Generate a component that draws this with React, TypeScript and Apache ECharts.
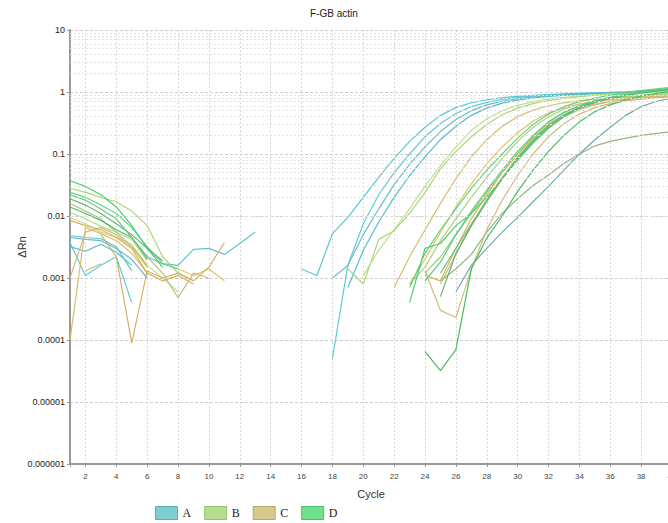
import React, { useEffect, useRef } from 'react';
import * as echarts from 'echarts';

type Seg = [number, number[]];

const TITLE = 'F-GB actin';
const X_NAME = 'Cycle';
const Y_NAME = 'ΔRn';
const GROUPS = ['A', 'B', 'C', 'D'];
const LEGEND_COLORS = ['#7dcfcf', '#b6de8e', '#d7c98b', '#6fe18f'];
const LEGEND_BORDERS = ['#5aaeb0', '#94c46e', '#b7a86a', '#4cbf6c'];
const Y_TICK_LABELS = ['0.000001', '0.00001', '0.0001', '0.001', '0.01', '0.1', '1', '10'];
const X_MIN = 1;
const X_MAX = 40;

// Each curve: list of [first cycle, values...] segments (gaps = values not drawn on log scale)
const A1: Seg[] = [[1, [0.0048, 0.0045, 0.0043, 0.0032, 0.0013]], [16, [0.0014, 0.0011, 0.0052, 0.0095, 0.02, 0.042, 0.085, 0.16, 0.27, 0.42, 0.56, 0.67, 0.75, 0.81, 0.85, 0.88, 0.91, 0.93, 0.95, 0.97, 0.99, 1.01, 1.04, 1.07, 1.1]]];
const A2: Seg[] = [[1, [0.0037, 0.0011, 0.0016, 0.0022, 0.0004]], [18, [0.00005, 0.0016, 0.0075, 0.022, 0.05, 0.1, 0.19, 0.31, 0.45, 0.58, 0.68, 0.76, 0.82, 0.86, 0.89, 0.92, 0.94, 0.96, 0.98, 1.0, 1.03, 1.06, 1.09]]];
const A3: Seg[] = [[1, [0.0045, 0.0042, 0.004, 0.003, 0.002, 0.001]], [18, [0.001, 0.0016, 0.005, 0.013, 0.032, 0.068, 0.13, 0.23, 0.36, 0.5, 0.62, 0.71, 0.78, 0.83, 0.87, 0.9, 0.93, 0.95, 0.97, 0.99, 1.02, 1.05, 1.08]]];
const A4: Seg[] = [[1, [0.0032, 0.0027, 0.0035, 0.0026, 0.0016]], [19, [0.0007, 0.0028, 0.008, 0.02, 0.045, 0.09, 0.17, 0.28, 0.42, 0.55, 0.66, 0.74, 0.8, 0.85, 0.88, 0.91, 0.94, 0.96, 0.98, 1.01, 1.04, 1.07]]];
const A5: Seg[] = [[26, [0.0006, 0.0016, 0.003, 0.0055, 0.0095, 0.017, 0.03, 0.055, 0.1, 0.17, 0.27, 0.42, 0.58, 0.71, 0.8]]];
const A6: Seg[] = [[6, [0.0022, 0.0017, 0.0016, 0.0029, 0.003, 0.0024, 0.0036, 0.0055]]];

const B1: Seg[] = [[1, [0.028, 0.024, 0.02, 0.017, 0.012, 0.007, 0.0022, 0.0012, 0.0009]], [19, [0.0014, 0.0008, 0.0042, 0.0058, 0.011, 0.024, 0.058, 0.11, 0.19, 0.3, 0.43, 0.55, 0.65, 0.73, 0.79, 0.84, 0.88, 0.91, 0.94, 0.97, 1.0, 1.03]]];
const B2: Seg[] = [[1, [0.0115, 0.009, 0.0068, 0.0055, 0.0042, 0.0019]], [20, [0.0011, 0.0028, 0.006, 0.013, 0.03, 0.065, 0.13, 0.24, 0.37, 0.5, 0.61, 0.7, 0.77, 0.82, 0.86, 0.9, 0.93, 0.96, 0.99, 1.02, 1.05]]];
const B3: Seg[] = [[24, [0.0012, 0.0022, 0.005, 0.011, 0.024, 0.05, 0.1, 0.19, 0.32, 0.47, 0.6, 0.7, 0.78, 0.84, 0.88, 0.91, 0.94]]];
const B4: Seg[] = [[25, [0.0009, 0.0014, 0.0024, 0.0055, 0.011, 0.019, 0.031, 0.046, 0.07, 0.1, 0.135, 0.16, 0.18, 0.2, 0.215, 0.228]]];
const B5: Seg[] = [[1, [0.0095, 0.0075, 0.0055, 0.0045, 0.0035, 0.0016, 0.001, 0.0006]]];
const B6: Seg[] = [[1, [0.016, 0.012, 0.009, 0.0055, 0.0032, 0.0015]], [23, [0.0008, 0.0015, 0.004, 0.009, 0.02, 0.042, 0.085, 0.16, 0.27, 0.4, 0.53, 0.64, 0.72, 0.78, 0.83, 0.87, 0.9, 0.93]]];

const C1: Seg[] = [[1, [0.0001, 0.0065, 0.0052, 0.004, 0.0025, 0.0012]], [22, [0.0007, 0.0022, 0.006, 0.016, 0.04, 0.09, 0.17, 0.28, 0.4, 0.51, 0.6, 0.67, 0.72, 0.76, 0.79, 0.81, 0.83, 0.85, 0.87]]];
const C2: Seg[] = [[1, [0.0085, 0.007, 0.006, 0.0045, 0.003, 0.0012, 0.0009, 0.0011, 0.0008]], [24, [0.0011, 0.0009, 0.003, 0.009, 0.022, 0.05, 0.1, 0.18, 0.3, 0.43, 0.55, 0.64, 0.71, 0.76, 0.8, 0.83, 0.86]]];
const C3: Seg[] = [[1, [0.001, 0.0055, 0.0065, 0.005, 0.0032, 0.0016]], [24, [0.0013, 0.0003, 0.00023, 0.0014, 0.006, 0.018, 0.045, 0.1, 0.19, 0.31, 0.44, 0.56, 0.65, 0.72, 0.77, 0.81, 0.84]]];
const C4: Seg[] = [[8, [0.0014, 0.0011, 0.0014, 0.0009]], [23, [0.0008, 0.002, 0.0055, 0.014, 0.033, 0.07, 0.13, 0.22, 0.34, 0.46, 0.56, 0.64, 0.7, 0.75, 0.79, 0.82, 0.85, 0.88]]];
const C5: Seg[] = [[3, [0.005, 0.0022, 0.00009, 0.0013, 0.001, 0.0012, 0.0009, 0.0015, 0.0037]]];
const C6: Seg[] = [[2, [0.0013, 0.0017]], [6, [0.0022, 0.0012, 0.00048, 0.0012, 0.001]], [25, [0.0008, 0.0024, 0.007, 0.018, 0.042, 0.085, 0.16, 0.27, 0.4, 0.52, 0.62, 0.7, 0.76, 0.8, 0.83, 0.86]]];

const D1: Seg[] = [[1, [0.037, 0.03, 0.022, 0.014, 0.007, 0.003, 0.0015]], [23, [0.0004, 0.003, 0.0036, 0.007, 0.011, 0.02, 0.04, 0.08, 0.15, 0.26, 0.4, 0.55, 0.68, 0.8, 0.9, 0.99, 1.07, 1.15]]];
const D2: Seg[] = [[1, [0.014, 0.011, 0.0085, 0.006, 0.0045, 0.0022]], [24, [0.000065, 0.000032, 0.00007, 0.0014, 0.0044, 0.01, 0.025, 0.055, 0.11, 0.2, 0.33, 0.48, 0.62, 0.75, 0.86, 0.95, 1.02]]];
const D3: Seg[] = [[1, [0.024, 0.02, 0.015, 0.011, 0.0065, 0.0032, 0.0017, 0.0014]], [23, [0.0007, 0.0025, 0.006, 0.013, 0.028, 0.055, 0.1, 0.18, 0.3, 0.44, 0.58, 0.7, 0.8, 0.89, 0.97, 1.05, 1.12, 1.2]]];
const D4: Seg[] = [[1, [0.019, 0.015, 0.011, 0.0075, 0.005, 0.003, 0.0019]], [25, [0.0005, 0.0025, 0.007, 0.017, 0.04, 0.085, 0.16, 0.28, 0.42, 0.56, 0.68, 0.79, 0.88, 0.96, 1.03, 1.1]]];
const D5: Seg[] = [[24, [0.0009, 0.0018, 0.005, 0.012, 0.026, 0.055, 0.11, 0.2, 0.33, 0.47, 0.6, 0.72, 0.82, 0.91, 0.99, 1.07, 1.14]]];
const D6: Seg[] = [[1, [0.022, 0.018, 0.013, 0.009, 0.0045, 0.002]], [25, [0.0012, 0.003, 0.0075, 0.018, 0.04, 0.09, 0.17, 0.29, 0.43, 0.57, 0.7, 0.81, 0.9, 0.98, 1.06, 1.13]]];

const CURVES: Record<string, Seg[][]> = {
  A: [A1, A2, A3, A4, A5, A6],
  B: [B1, B2, B3, B4, B5, B6],
  C: [C1, C2, C3, C4, C5, C6],
  D: [D1, D2, D3, D4, D5, D6],
};

const CURVE_COLORS: Record<string, string[]> = {
  A: ['#4fc4cf', '#55c8d8', '#62b9bf', '#48bccd', '#6aa9a3', '#5bbfca'],
  B: ['#a8d470', '#b9dc88', '#9ccb6a', '#8fb27e', '#c0dc8c', '#a6cf7a'],
  C: ['#d6bb6a', '#dcae48', '#cdb676', '#e0bf5a', '#cfae62', '#c4b87e'],
  D: ['#49c76a', '#3db95c', '#57d37a', '#5fae6e', '#45cc7c', '#68c27c'],
};

function toData(segs: Seg[]) {
  const out: any[] = [];
  segs.forEach(([start, vals], si) => {
    if (si > 0) out.push([start, '-']);
    vals.forEach((v, i) => out.push([start + i, v]));
  });
  return out;
}

export default function App() {
  const ref = useRef<HTMLDivElement>(null);
  useEffect(() => {
    if (!ref.current) return;
    const chart = echarts.init(ref.current, undefined, { renderer: 'svg' });

    const minorValues: number[] = [];
    Y_TICK_LABELS.slice(0, -1).forEach((l) => {
      const base = Number(l);
      for (let k = 2; k <= 9; k++) minorValues.push(base * k);
    });

    const series: any[] = [
      {
        type: 'line',
        data: [],
        silent: true,
        z: 1,
        markLine: {
          silent: true,
          symbol: 'none',
          label: { show: false },
          lineStyle: { color: '#e2e2e2', type: [2, 2], width: 1 },
          data: minorValues.map((v) => ({ yAxis: v })),
        },
      },
    ];
    GROUPS.forEach((g) => {
      CURVES[g].forEach((segs, j) => {
        const color = CURVE_COLORS[g][j];
        series.push({
          type: 'line',
          name: g,
          data: toData(segs),
          showSymbol: false,
          symbol: 'none',
          connectNulls: false,
          z: 3,
          lineStyle: { width: 1.2, color, opacity: 0.95 },
          itemStyle: { color },
          emphasis: { disabled: true },
        });
      });
    });

    chart.setOption({
      animation: false,
      backgroundColor: '#ffffff',
      title: {
        text: TITLE,
        left: 'center',
        top: 3,
        textStyle: { fontSize: 10, fontWeight: 'normal', color: '#222', fontFamily: 'Liberation Sans' },
      },
      legend: {
        left: 150,
        top: 501,
        icon: 'rect',
        itemWidth: 22,
        itemHeight: 13,
        itemGap: 13,
        selectedMode: false,
        data: GROUPS.map((g, i) => ({
          name: g,
          itemStyle: { color: LEGEND_COLORS[i], borderColor: LEGEND_BORDERS[i], borderWidth: 1 },
        })),
        textStyle: { fontFamily: 'Liberation Serif', fontSize: 12, color: '#222' },
      },
      grid: { left: 70, top: 30, width: 602, height: 434, containLabel: false, outerBoundsMode: 'none' },
      xAxis: {
        type: 'value',
        min: X_MIN,
        max: X_MAX,
        splitNumber: 20,
        minInterval: 2,
        maxInterval: 2,
        name: X_NAME,
        nameLocation: 'middle',
        nameGap: 24,
        nameMoveOverlap: false,
        nameTextStyle: { fontSize: 11, color: '#333', fontFamily: 'Liberation Sans' },
        axisLine: { show: true, lineStyle: { color: '#9a9a9a', width: 2 } },
        axisTick: { show: true, length: 3, lineStyle: { color: '#999' } },
        axisLabel: {
          formatter: (v: number) => (v % 2 === 0 ? String(v) : ''),
          fontSize: 8,
          color: '#444',
          margin: 8,
          fontFamily: 'Liberation Sans Narrow, Liberation Sans',
        },
        splitLine: { show: true, lineStyle: { color: '#d9d9d9', type: [2, 2] } },
      },
      yAxis: {
        type: 'log',
        logBase: 10,
        min: 0.000001,
        max: 10,
        splitNumber: 7,
        name: Y_NAME,
        nameLocation: 'middle',
        nameGap: 43,
        nameMoveOverlap: false,
        nameTextStyle: { fontSize: 11, color: '#333', fontFamily: 'Liberation Sans' },
        axisLine: { show: true, lineStyle: { color: '#9a9a9a', width: 2 } },
        axisTick: { show: true, length: 3, lineStyle: { color: '#999' } },
        axisLabel: {
          formatter: (v: number) => Y_TICK_LABELS[Math.round(Math.log10(v)) + 6] ?? '',
          fontSize: 9,
          color: '#222',
          margin: 5,
          fontFamily: 'Liberation Sans',
        },
        splitLine: { show: true, lineStyle: { color: '#cdcdcd', type: [3, 2] } },
      },
      series,
    });

    return () => chart.dispose();
  }, []);

  return (
    <div
      ref={ref}
      style={{ position: 'absolute', left: 0, top: 0, width: 668, height: 523, background: '#fff' }}
    />
  );
}
